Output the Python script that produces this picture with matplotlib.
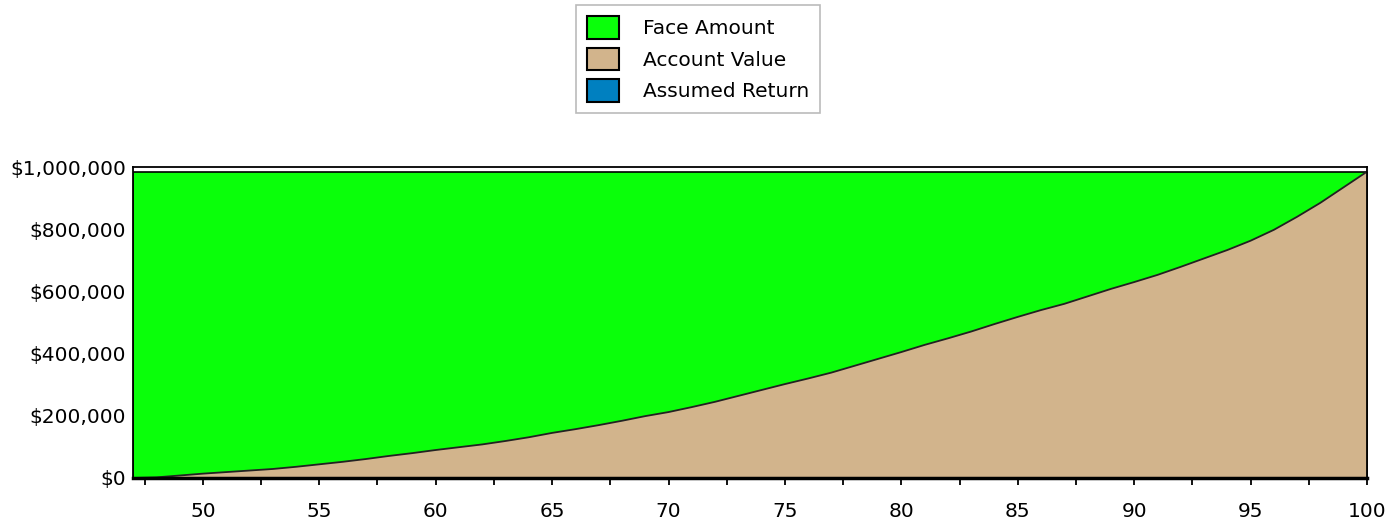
import matplotlib
matplotlib.use("Agg")
import matplotlib.pyplot as plt
from matplotlib.patches import Patch
from matplotlib.ticker import FuncFormatter, MultipleLocator

ages = list(range(47, 101))
face_amount = [985000] * len(ages)
account_value = [0, 2000, 8000, 14000, 19000, 24000, 29000, 36000, 44000, 52000,
                 61000, 71000, 80000, 90000, 99000, 108000, 119000, 131000, 145000, 157000,
                 170000, 184000, 199000, 212000, 228000, 245000, 264000, 283000, 302000, 320000,
                 339000, 361000, 383000, 405000, 428000, 449000, 471000, 495000, 518000, 540000,
                 560000, 584000, 608000, 630000, 653000, 679000, 706000, 733000, 763000, 798000,
                 840000, 885000, 935000, 985000]
series_labels = ["Face Amount", "Account Value", "Assumed Return"]
series_colors = ["#0AFF0A", "#D2B48C", "#0080C0"]

fig = plt.figure(figsize=(13.94, 5.25), dpi=100)
ax = fig.add_axes([133 / 1394, 1 - 478 / 525, (1367 - 133) / 1394, (478 - 167) / 525])

ax.fill_between(ages, 0, face_amount, color=series_colors[0], edgecolor="black", linewidth=1.2)
ax.fill_between(ages, 0, account_value, color=series_colors[1], edgecolor="none")
ax.plot(ages, account_value, color="#222222", linewidth=1.3)

ax.set_xlim(47, 100)
ax.set_ylim(0, 1000000)
ax.xaxis.set_major_locator(MultipleLocator(5))
ax.xaxis.set_minor_locator(MultipleLocator(2.5))
ax.yaxis.set_major_locator(MultipleLocator(200000))
ax.yaxis.set_major_formatter(FuncFormatter(lambda v, p: "${:,.0f}".format(v)))
ax.tick_params(axis="x", which="both", direction="out", length=5, width=1.3, labelsize=14.5, pad=12)
ax.tick_params(axis="y", length=0, labelsize=14.5, pad=5)
for s in ax.spines.values():
    s.set_color("black")
    s.set_linewidth(1.3)
ax.spines["bottom"].set_linewidth(2.5)

handles = [Patch(facecolor=c, edgecolor="black", linewidth=1.5) for c in series_colors]
leg = fig.legend(handles, series_labels, loc="upper center", bbox_to_anchor=(698 / 1394, 1 - 5 / 525),
                 fontsize=14.5, frameon=True, fancybox=False, edgecolor="#AAAAAA",
                 handlelength=1.6, handleheight=1.35, handletextpad=1.2, labelspacing=0.45,
                 borderpad=0.55, borderaxespad=0)
leg.get_frame().set_linewidth(1.2)

fig.savefig("out.png", dpi=100)
